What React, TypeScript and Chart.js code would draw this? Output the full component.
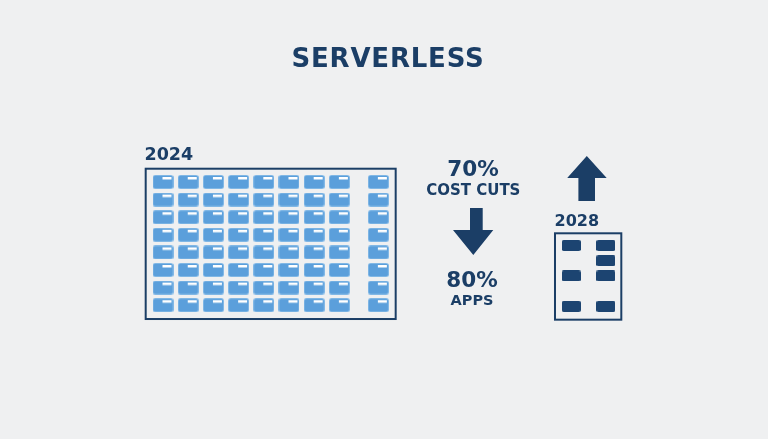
import { useEffect, useRef } from "react";
import { Chart, registerables } from "chart.js";

Chart.register(...registerables);

// ---- content ----
const TITLE = "SERVERLESS";
const YEAR_BEFORE = "2024";
const YEAR_AFTER = "2028";
const COST_VALUE = "70%";
const COST_LABEL = "COST CUTS";
const APPS_VALUE = "80%";
const APPS_LABEL = "APPS";

// 2024: many servers (grid column index x row index)
const SERVERS_2024_COLUMNS = [0, 1, 2, 3, 4, 5, 6, 7, 8.55];
const SERVERS_2024_ROWS = [0, 1, 2, 3, 4, 5, 6, 7];

// 2028: few servers (column, row)
const SERVERS_2028_COLUMNS = [0, 0, 0, 1, 1, 1, 1];
const SERVERS_2028_ROWS = [0, 2, 4, 0, 1, 2, 4];

// ---- style / layout ----
const W = 768;
const H = 439;
const BG = "#eff0f1";
const NAVY = "#1b3e66";
const CELL_BLUE = "#5b9fdb";
const CELL_EDGE = "#8cbfe9";
const FONT = "'DejaVu Sans', sans-serif";

// scale range so that index 0 lands at `origin` px with `step` px per unit
function range(origin: number, step: number, size: number) {
  const min = -origin / step;
  return { min, max: min + size / step };
}

function rr(ctx: CanvasRenderingContext2D, x: number, y: number, w: number, h: number, r: number) {
  ctx.beginPath();
  ctx.moveTo(x + r, y);
  ctx.lineTo(x + w - r, y);
  ctx.quadraticCurveTo(x + w, y, x + w, y + r);
  ctx.lineTo(x + w, y + h - r);
  ctx.quadraticCurveTo(x + w, y + h, x + w - r, y + h);
  ctx.lineTo(x + r, y + h);
  ctx.quadraticCurveTo(x, y + h, x, y + h - r);
  ctx.lineTo(x, y + r);
  ctx.quadraticCurveTo(x, y, x + r, y);
  ctx.closePath();
}

function makeCell2024() {
  const c = document.createElement("canvas");
  c.width = 21;
  c.height = 14;
  const ctx = c.getContext("2d")!;
  rr(ctx, 0, 0, 21, 14, 2.5);
  ctx.fillStyle = CELL_EDGE;
  ctx.fill();
  rr(ctx, 0.8, 0.8, 19.4, 12.4, 2);
  ctx.fillStyle = CELL_BLUE;
  ctx.fill();
  ctx.fillStyle = "#ffffff";
  ctx.fillRect(10, 2, 9, 2.5);
  return c;
}

function makeCell2028() {
  const c = document.createElement("canvas");
  c.width = 19;
  c.height = 11;
  const ctx = c.getContext("2d")!;
  rr(ctx, 0, 0, 19, 11, 1.8);
  ctx.fillStyle = "#1c4471";
  ctx.fill();
  return c;
}

const overlay = {
  id: "infographic",
  beforeDraw(chart: any) {
    const ctx = chart.ctx as CanvasRenderingContext2D;
    ctx.save();
    ctx.fillStyle = BG;
    ctx.fillRect(0, 0, chart.width, chart.height);
    ctx.restore();
  },
  afterDatasetsDraw(chart: any) {
    const ctx = chart.ctx as CanvasRenderingContext2D;
    const s = chart.scales;
    ctx.save();
    ctx.strokeStyle = NAVY;
    ctx.lineWidth = 2;
    // frame around 2024 grid
    {
      const x1 = s.x24.getPixelForValue(-0.687);
      const x2 = s.x24.getPixelForValue(9.237);
      const y1 = s.y24.getPixelForValue(-0.755);
      const y2 = s.y24.getPixelForValue(7.785);
      ctx.strokeRect(x1, y1, x2 - x1, y2 - y1);
    }
    // frame around 2028 grid
    {
      const x1 = s.x28.getPixelForValue(-0.467);
      const x2 = s.x28.getPixelForValue(1.444);
      const y1 = s.y28.getPixelForValue(-0.803);
      const y2 = s.y28.getPixelForValue(4.88);
      ctx.strokeRect(x1, y1, x2 - x1, y2 - y1);
    }

    ctx.fillStyle = NAVY;
    // title
    ctx.textBaseline = "alphabetic";
    ctx.textAlign = "center";
    ctx.font = `bold 26px ${FONT}`;
    (ctx as any).letterSpacing = "0.8px";
    ctx.fillText(TITLE, 388, 66.5);
    (ctx as any).letterSpacing = "0px";

    ctx.textAlign = "left";
    ctx.font = `bold 17.5px ${FONT}`;
    ctx.fillText(YEAR_BEFORE, 144.5, 160);
    ctx.font = `bold 16px ${FONT}`;
    ctx.fillText(YEAR_AFTER, 554.5, 225.7);

    ctx.textAlign = "center";
    ctx.font = `bold 21.5px ${FONT}`;
    ctx.fillText(COST_VALUE, 473, 176);
    ctx.font = `bold 15px ${FONT}`;
    ctx.fillText(COST_LABEL, 473.3, 195);
    ctx.font = `bold 21.5px ${FONT}`;
    ctx.fillText(APPS_VALUE, 472, 286.7);
    ctx.font = `bold 14.5px ${FONT}`;
    ctx.fillText(APPS_LABEL, 472, 305);

    // down arrow
    ctx.beginPath();
    ctx.moveTo(470, 208);
    ctx.lineTo(482.7, 208);
    ctx.lineTo(482.7, 230);
    ctx.lineTo(493.3, 230);
    ctx.lineTo(473.3, 255);
    ctx.lineTo(453, 230);
    ctx.lineTo(470, 230);
    ctx.closePath();
    ctx.fill();

    // up arrow
    ctx.beginPath();
    ctx.moveTo(586.8, 156);
    ctx.lineTo(606.7, 178);
    ctx.lineTo(595, 178);
    ctx.lineTo(595, 201);
    ctx.lineTo(578.4, 201);
    ctx.lineTo(578.4, 178);
    ctx.lineTo(567.2, 178);
    ctx.closePath();
    ctx.fill();

    ctx.restore();
  },
};

export default function App() {
  const ref = useRef<HTMLCanvasElement>(null);

  useEffect(() => {
    if (!ref.current) return;
    const data2024: { x: number; y: number }[] = [];
    for (const c of SERVERS_2024_COLUMNS) {
      for (const r of SERVERS_2024_ROWS) data2024.push({ x: c, y: r });
    }
    const data2028 = SERVERS_2028_COLUMNS.map((c, i) => ({ x: c, y: SERVERS_2028_ROWS[i] }));

    const x24 = range(163, 25.19, W);
    const y24 = range(182, 17.6, H);
    const x28 = range(571.2, 34.7, W);
    const y28 = range(245.5, 15.2, H);

    const hidden = { display: false, grid: { display: false } };

    const chart = new Chart(ref.current, {
      type: "scatter",
      data: {
        datasets: [
          {
            label: YEAR_BEFORE,
            data: data2024,
            xAxisID: "x24",
            yAxisID: "y24",
            pointStyle: makeCell2024() as any,
            pointRadius: 5,
            pointHoverRadius: 5,
            clip: false,
          },
          {
            label: YEAR_AFTER,
            data: data2028,
            xAxisID: "x28",
            yAxisID: "y28",
            pointStyle: makeCell2028() as any,
            pointRadius: 5,
            pointHoverRadius: 5,
            clip: false,
          },
        ],
      },
      options: {
        responsive: false,
        maintainAspectRatio: false,
        animation: false,
        events: [],
        layout: { padding: 0, autoPadding: false },
        plugins: {
          legend: { display: false },
          title: { display: false },
          tooltip: { enabled: false },
        },
        scales: {
          x24: { type: "linear", position: "bottom", min: x24.min, max: x24.max, ...hidden },
          y24: { type: "linear", position: "left", reverse: true, min: y24.min, max: y24.max, ...hidden },
          x28: { type: "linear", position: "bottom", min: x28.min, max: x28.max, ...hidden },
          y28: { type: "linear", position: "left", reverse: true, min: y28.min, max: y28.max, ...hidden },
        },
      },
      plugins: [overlay],
    });
    return () => chart.destroy();
  }, []);

  return (
    <div style={{ position: "fixed", left: 0, top: 0, width: W, height: H, background: BG }}>
      <canvas ref={ref} width={W} height={H} style={{ display: "block", width: W, height: H }} />
    </div>
  );
}
